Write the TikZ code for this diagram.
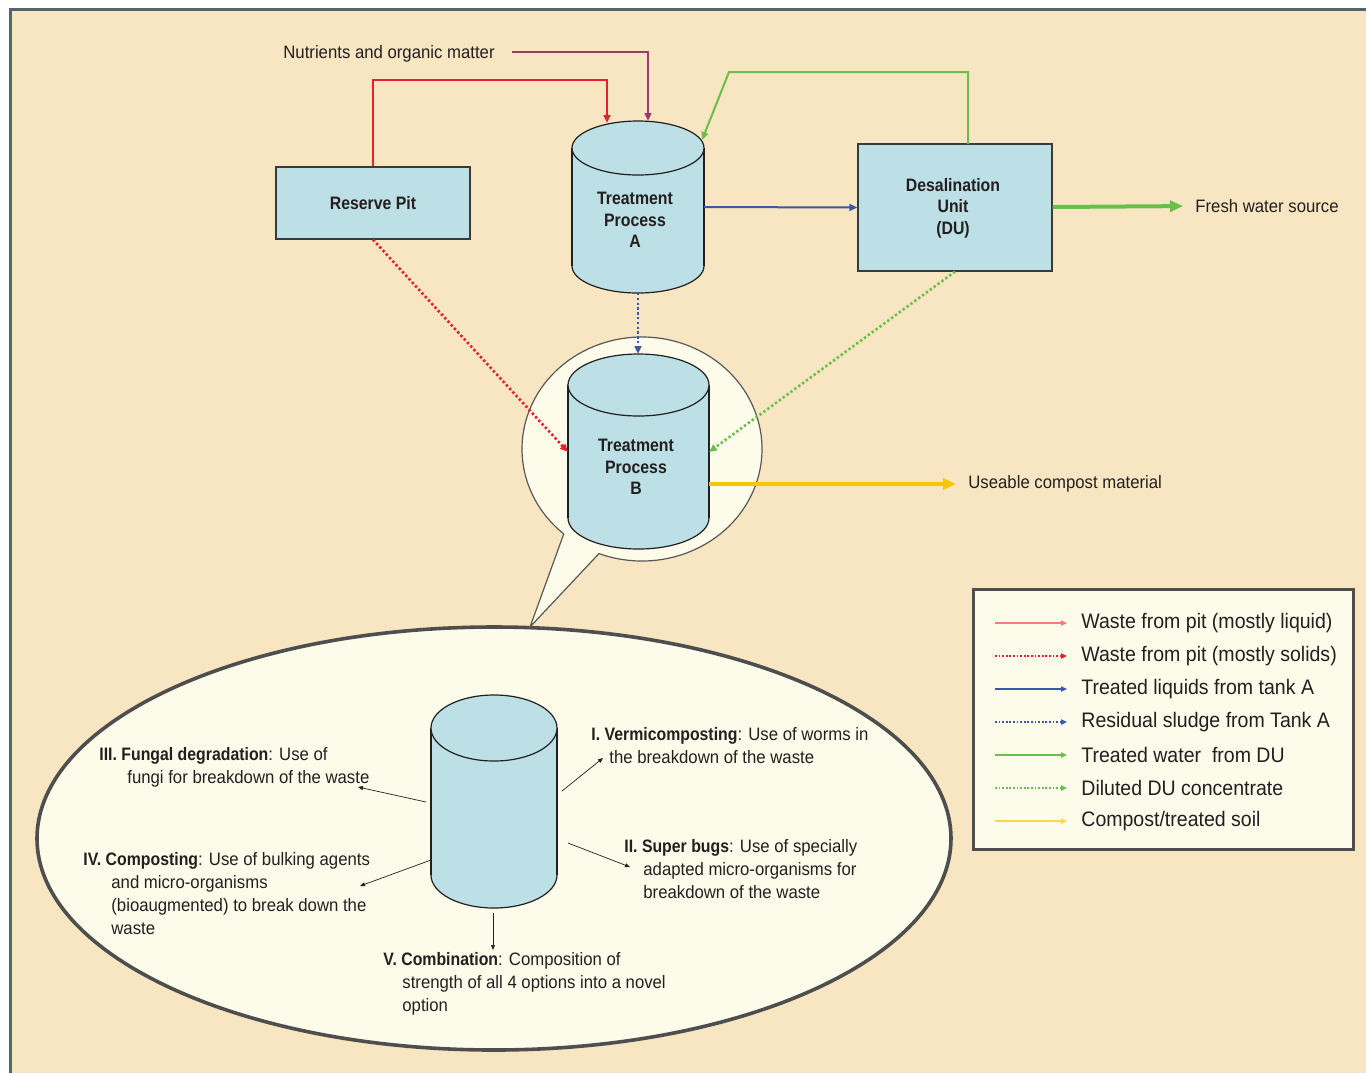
\documentclass[tikz,border=0pt]{standalone}
\usepackage{fontspec}
\setmainfont[FakeStretch=0.93, BoldFeatures={FakeStretch=0.88}]{Liberation Sans}
\usetikzlibrary{arrows.meta}
\definecolor{bg}{HTML}{F7E6C1}
\definecolor{frame}{HTML}{53666F}
\definecolor{cylfill}{HTML}{BCE0E5}
\definecolor{cream}{HTML}{FDFBE9}
\definecolor{ink}{HTML}{231F20}
\definecolor{edge}{HTML}{3A3A3A}
\definecolor{cred}{HTML}{E8202A}
\definecolor{cpurple}{HTML}{9E3A6E}
\definecolor{cgreen}{HTML}{6ABF4B}
\definecolor{cblue}{HTML}{3C57A6}
\definecolor{cyellow}{HTML}{F6C700}
\definecolor{lred}{HTML}{F47C7C}
\definecolor{lyellow}{HTML}{F9D84A}
\newcommand\mycyl[5]{%
  \fill[cylfill] (#1,#3) ellipse [x radius=#4, y radius=#5];
  \draw[cylline] (#1,#3) ellipse [x radius=#4, y radius=#5];
  \fill[cylfill] (#1-#4,#2) rectangle (#1+#4,#3);
  \draw[cylline] (#1-#4,#2) -- (#1-#4,#3) (#1+#4,#2) -- (#1+#4,#3);
  \filldraw[cylline, fill=cylfill] (#1,#2) ellipse [x radius=#4, y radius=#5];
}
\begin{document}
\begin{tikzpicture}[x=0.5pt,y=-0.5pt,
  cylline/.style={draw=ink, line width=0.6pt},
  boxnode/.style={draw=edge, line width=0.6pt, fill=cylfill, inner sep=0pt, align=center,
    font=\bfseries\fontsize{9}{11}\selectfont, text=ink},
  lbl/.style={inner sep=0pt, align=center, font=\bfseries\fontsize{9}{10.7}\selectfont, text=ink},
  txt/.style={inner sep=0pt, align=left, font=\fontsize{9}{11.5}\selectfont, text=ink},
  leg/.style={anchor=west, inner sep=0pt, font=\fontsize{10.5}{12}\selectfont, text=ink},
  arr/.style={-{Triangle[length=4pt,width=3.4pt]}, line width=1pt},
  dotline/.style={-{Triangle[length=4pt,width=3.4pt]}, line width=1.3pt, dash pattern=on 1.2pt off 1.2pt},
  bigarr/.style={-{Triangle[length=6.5pt,width=5.5pt]}, line width=2pt, shorten >=6pt},
  thinarr/.style={-{Triangle[length=2.5pt,width=2pt]}, line width=0.35pt, draw=ink},
  legarr/.style={-{Triangle[length=3pt,width=2.6pt]}, line width=0.6pt},
  legdot/.style={-{Triangle[length=3pt,width=2.6pt]}, line width=1pt, dash pattern=on 0.9pt off 0.9pt}]
\useasboundingbox (0,0) rectangle (1366,1073);
\fill[white] (0,0) rectangle (1366,1073);
\fill[bg] (10,9) rectangle (1366,1073);
\draw[frame, line width=1.6pt] (10.5,1073) -- (10.5,9.5) -- (1366,9.5);

% big ellipse
\filldraw[fill=cream, draw=edge!90, line width=1.8pt] (494,838.5) ellipse [x radius=457, y radius=211.5];

% speech bubble
\filldraw[fill=cream, draw=edge!85, line width=0.6pt]
  ([shift={(111:120 and 112)}]642,449) arc[start angle=111, end angle=-229.3, x radius=120, y radius=112]
  -- (530,627) -- cycle;

% Reserve pit and DU
\node[boxnode, minimum width=97pt, minimum height=36pt] (pit) at (373,203) {Reserve Pit};
\node[boxnode, minimum width=97pt, minimum height=63.5pt] (du) at (955,207.5) {};
\node[lbl] (dulbl) at (953,208) {Desalination\\Unit\\(DU)};

% cylinders
\mycyl{638}{148}{266}{66}{27}
\node[lbl] (tA) at (635,220) {Treatment\\Process\\A};
\mycyl{638.5}{385}{518}{70.5}{31}
\node[lbl] (tB) at (636,467) {Treatment\\Process\\B};
\mycyl{494}{728}{875}{63}{33}
\coordinate (tC) at (494,800);

% anchor coordinates on cylinders
\coordinate (Atop1) at (607,123);
\coordinate (Atop2) at (648,121);
\coordinate (Atopr) at (702,140);
\coordinate (Aright) at (704,207);
\coordinate (Abot) at (638,293);
\coordinate (Btop) at (638,354);
\coordinate (Bleft) at (568,452);
\coordinate (Bright) at (709,452);
\coordinate (Bout) at (709,484);

% top texts
\node[txt, anchor=base west] (nut) at (283,58) {Nutrients and organic matter};
\node[txt, anchor=west] (fresh) at (1195,206) {Fresh water source};
\node[txt, anchor=west] (comp) at (968,484) {Useable compost material};

% connectors top
\draw[arr, cred] (pit.north) |- (607,80) -- (Atop1);
\draw[arr, cpurple] (nut.base east) ++(17,-6) coordinate (nutend) -| (Atop2);
\draw[arr, cgreen] (968,144) coordinate (dutop) -- (968,72) -- (729,72) -- (Atopr);
\draw[arr, cblue] (Aright) -- (du.west);
\draw[bigarr, cgreen] (du.east |- Aright) -- (fresh.west);
\draw[dotline, cblue] (Abot) -- (Btop);
\draw[dotline, cred] (pit.south) -- (Bleft);
\draw[dotline, cgreen] (du.south) -- (Bright);
\draw[bigarr, cyellow] (Bout) -- (comp.west);

% ellipse texts
\node[txt, anchor=north west] (t3) at (99,747) {\textbf{III. Fungal degradation}: Use of\\\hspace*{14pt}fungi for breakdown of the waste};
\node[txt, anchor=north west] (t4) at (83,852) {\textbf{IV. Composting}: Use of bulking agents\\\hspace*{14pt}and micro-organisms\\\hspace*{14pt}(bioaugmented) to break down the\\\hspace*{14pt}waste};
\node[txt, anchor=north west] (t1) at (591,727) {\textbf{I. Vermicomposting}: Use of worms in\\\hspace*{9pt}the breakdown of the waste};
\node[txt, anchor=north west] (t2) at (624,839) {\textbf{II. Super bugs}: Use of specially\\\hspace*{9.5pt}adapted micro-organisms for\\\hspace*{9.5pt}breakdown of the waste};
\node[txt, anchor=north west] (t5) at (383,952) {\textbf{V. Combination}: Composition of\\\hspace*{9.5pt}strength of all 4 options into a novel\\\hspace*{9.5pt}option};

\coordinate (c1) at (562,791); \coordinate (e1) at (603,758);
\coordinate (c2) at (568,843); \coordinate (e2) at (630,867);
\coordinate (c3) at (426,802); \coordinate (e3) at (358,787);
\coordinate (c4) at (431,860); \coordinate (e4) at (360,886);
\coordinate (c5) at (493,913); \coordinate (e5) at (493,950);
\draw[thinarr] (c1) -- (e1);
\draw[thinarr] (c2) -- (e2);
\draw[thinarr] (c3) -- (e3);
\draw[thinarr] (c4) -- (e4);
\draw[thinarr] (c5) -- (e5);

% legend
\filldraw[fill=cream, draw=edge!90, line width=1.5pt] (973,589) rectangle (1353,849);
\foreach \i/\yy/\col/\sty/\lab in {
  1/623/lred/legarr/{Waste from pit (mostly liquid)},
  2/656/cred/legdot/{Waste from pit (mostly solids)},
  3/689/cblue/legarr/{Treated liquids from tank A},
  4/722/cblue/legdot/{Residual sludge from Tank A},
  5/755/cgreen/legarr/{Treated water\ \ from DU},
  6/788/cgreen/legdot/{Diluted DU concentrate},
  7/821/lyellow/legarr/{Compost/treated soil}}{
  \coordinate (la\i) at (995,\yy);
  \node[leg] (lt\i) at (1081,\yy) {\lab};
  \draw[\sty, \col] (la\i) -- ([xshift=-7pt]lt\i.west);
}
\end{tikzpicture}
\end{document}
